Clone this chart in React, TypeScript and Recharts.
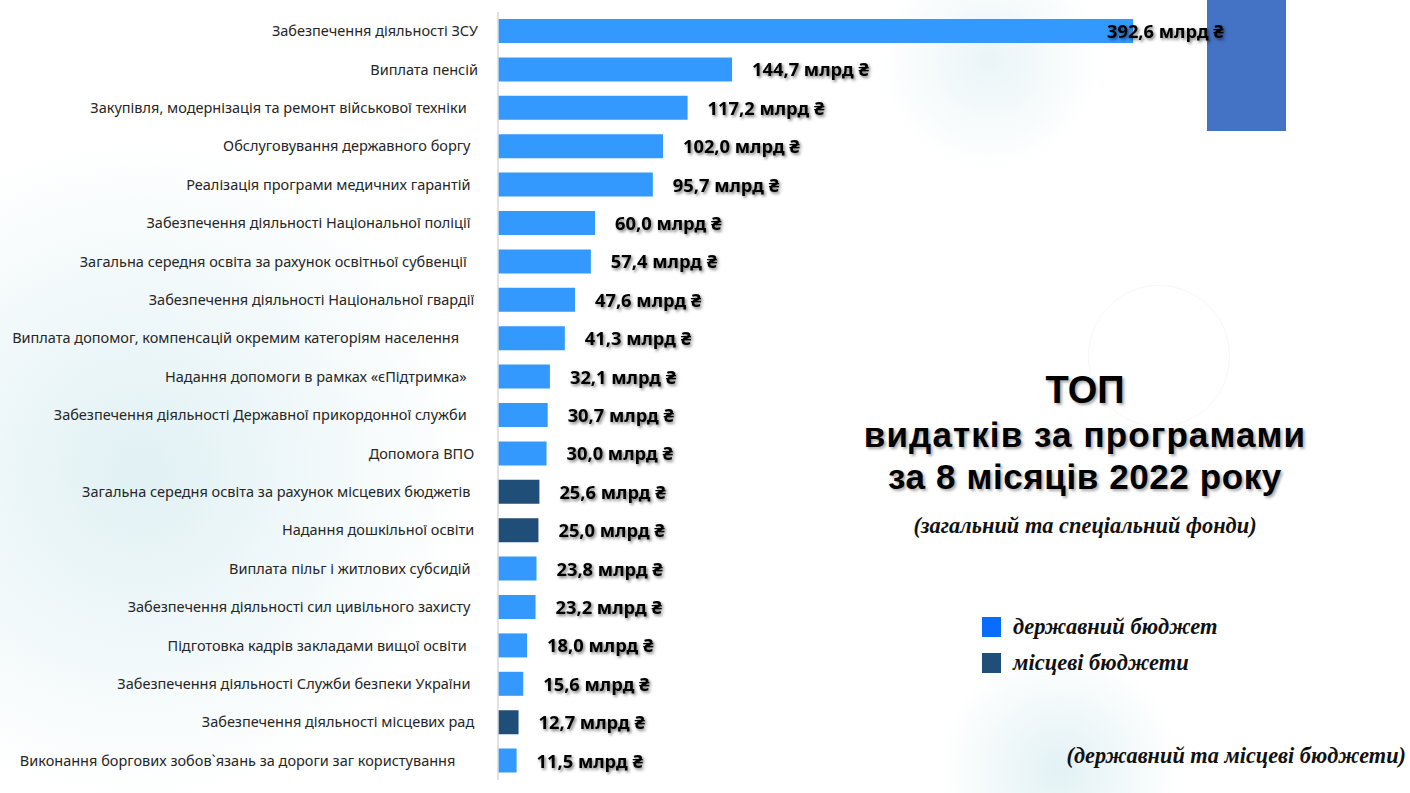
import { BarChart, Bar, XAxis, YAxis, Cell, LabelList } from 'recharts';

// назви програм (пробіли в кінці — як у слайді, для вирівнювання)
const programs = [
  'Забезпечення діяльності ЗСУ',
  'Виплата пенсій',
  'Закупівля, модернізація та ремонт військової техніки   ',
  'Обслуговування державного боргу  ',
  'Реалізація програми медичних гарантій  ',
  'Забезпечення діяльності Національної поліції  ',
  'Загальна середня освіта за рахунок освітньої субвенції   ',
  'Забезпечення діяльності Національної гвардії ',
  'Виплата допомог, компенсацій окремим категоріям населення     ',
  'Надання допомоги в рамках «єПідтримка»   ',
  'Забезпечення діяльності Державної прикордонної служби   ',
  'Допомога ВПО ',
  'Загальна середня освіта за рахунок місцевих бюджетів  ',
  'Надання дошкільної освіти ',
  'Виплата пільг і житлових субсидій  ',
  'Забезпечення діяльності сил цивільного захисту  ',
  'Підготовка кадрів закладами вищої освіти   ',
  'Забезпечення діяльності Служби безпеки України  ',
  'Забезпечення діяльності місцевих рад ',
  'Виконання боргових зобов`язань за дороги заг користування      ',
];

// млрд грн
const amounts = [392.6, 144.7, 117.2, 102.0, 95.7, 60.0, 57.4, 47.6, 41.3, 32.1, 30.7, 30.0, 25.6, 25.0, 23.8, 23.2, 18.0, 15.6, 12.7, 11.5];

// рівень бюджету
const budgetType = ['state', 'state', 'state', 'state', 'state', 'state', 'state', 'state', 'state', 'state', 'state', 'state', 'local', 'local', 'state', 'state', 'state', 'state', 'local', 'state'];

const titleLines = ['ТОП', 'видатків за програмами', 'за 8 місяців 2022 року'];
const legendItems = ['державний бюджет', 'місцеві бюджети'];

const BAR_COLORS: Record<string, string> = {
  state: '#3399ff',
  local: '#1f4e79',
};
const LEGEND_COLORS = ['#0a6cff', '#1f4e79'];

const data = programs.map((name, i) => ({ name, value: amounts[i], type: budgetType[i] }));

const fmt = (v: number) => v.toFixed(1).replace('.', ',') + ' млрд ₴';

const serif = '"Liberation Serif", "DejaVu Serif", serif';
const sans = '"Noto Sans", "Open Sans", sans-serif';
const titleFont = '"Liberation Sans", Arial, sans-serif';

const ProgramTick = ({ x, y, payload }: any) => (
  <text
    x={x}
    y={y}
    dy={5}
    textAnchor="end"
    fill="#262626"
    fontSize={14.5}
    fontFamily={sans}
    style={{ whiteSpace: 'pre' }}
  >
    {payload.value}
  </text>
);

const ValueLabel = (props: any) => {
  const { x, y, width, height, value } = props;
  // найдовша смуга — підпис заходить на саму смугу
  const tx = Math.min(x + width + 20, 1107);
  return (
    <text
      x={tx}
      y={y + height / 2}
      dy={7}
      fill="#000"
      fontSize={18.3}
      fontWeight={700}
      fontFamily={sans}
      filter="url(#lblShadow)"
    >
      {fmt(value)}
    </text>
  );
};

export default function App() {
  return (
    <div
      style={{
        position: 'absolute',
        left: 0,
        top: 0,
        width: 1410,
        height: 793,
        overflow: 'hidden',
        background:
          'radial-gradient(circle at 140px 470px, rgba(214,236,240,0.75) 0px, rgba(255,255,255,0) 330px),' +
          'radial-gradient(circle at 1060px 770px, rgba(214,236,240,0.7) 0px, rgba(255,255,255,0) 120px),' +
          'radial-gradient(circle at 990px 60px, rgba(220,238,242,0.6) 0px, rgba(255,255,255,0) 110px),' +
          '#ffffff',
      }}
    >
      <svg width={0} height={0} style={{ position: 'absolute' }}>
        <defs>
          <filter id="lblShadow" x="-10%" y="-40%" width="130%" height="190%">
            <feDropShadow dx={1.5} dy={1.8} stdDeviation={1.6} floodColor="#000" floodOpacity={0.55} />
          </filter>
        </defs>
      </svg>

      {/* декоративний блок вгорі праворуч */}
      <div style={{ position: 'absolute', left: 1207, top: 0, width: 79, height: 131, background: '#4472c4' }} />
      {/* ледь помітне коло */}
      <div
        style={{
          position: 'absolute',
          left: 1088,
          top: 285,
          width: 140,
          height: 140,
          borderRadius: '50%',
          border: '1px solid rgba(232,238,241,0.45)',
        }}
      />

      <div style={{ position: 'absolute', left: 0, top: 0 }}>
        <BarChart
          width={1410}
          height={793}
          data={data}
          layout="vertical"
          margin={{ top: 12, right: 184, bottom: 13, left: 0 }}
        >
          <XAxis type="number" domain={[0, 450]} hide />
          <YAxis
            type="category"
            dataKey="name"
            width={498}
            axisLine={{ stroke: '#d9d9d9', strokeWidth: 1.5 }}
            tickLine={false}
            tick={<ProgramTick />}
            tickMargin={14}
            interval={0}
          />
          <Bar dataKey="value" barSize={24} isAnimationActive={false}>
            {data.map((d, i) => (
              <Cell key={`c-${i}`} fill={BAR_COLORS[d.type]} />
            ))}
            <LabelList dataKey="value" content={<ValueLabel />} />
          </Bar>
        </BarChart>
      </div>

      {/* заголовок */}
      <div
        style={{
          position: 'absolute',
          left: 820,
          top: 366,
          width: 530,
          textAlign: 'center',
          fontFamily: titleFont,
          fontWeight: 700,
          color: '#000',
          textShadow: '2px 2px 3px rgba(0,0,0,0.35)',
        }}
      >
        <div style={{ fontSize: 38, lineHeight: '48px' }}>{titleLines[0]}</div>
        <div style={{ fontSize: 35, lineHeight: '42px', letterSpacing: 1.1 }}>{titleLines[1]}</div>
        <div style={{ fontSize: 35, lineHeight: '41px', letterSpacing: 0.6 }}>{titleLines[2]}</div>
      </div>

      <div
        style={{
          position: 'absolute',
          left: 820,
          top: 513,
          width: 530,
          textAlign: 'center',
          fontFamily: serif,
          fontStyle: 'italic',
          fontWeight: 700,
          fontSize: 22.4,
          color: '#111',
        }}
      >
        (загальний та спеціальний фонди)
      </div>

      {/* легенда */}
      <div style={{ position: 'absolute', left: 982, top: 609 }}>
        {legendItems.map((t, i) => (
          <div key={t} style={{ display: 'flex', alignItems: 'center', height: 36 }}>
            <div style={{ width: 19, height: 20, background: LEGEND_COLORS[i], marginRight: 12 }} />
            <span style={{ fontFamily: serif, fontStyle: 'italic', fontWeight: 700, fontSize: 22.5, color: '#111' }}>{t}</span>
          </div>
        ))}
      </div>

      <div
        style={{
          position: 'absolute',
          right: 4,
          top: 743,
          fontFamily: serif,
          fontStyle: 'italic',
          fontWeight: 700,
          fontSize: 22.3,
          color: '#111',
        }}
      >
        (державний та місцеві бюджети)
      </div>
    </div>
  );
}
